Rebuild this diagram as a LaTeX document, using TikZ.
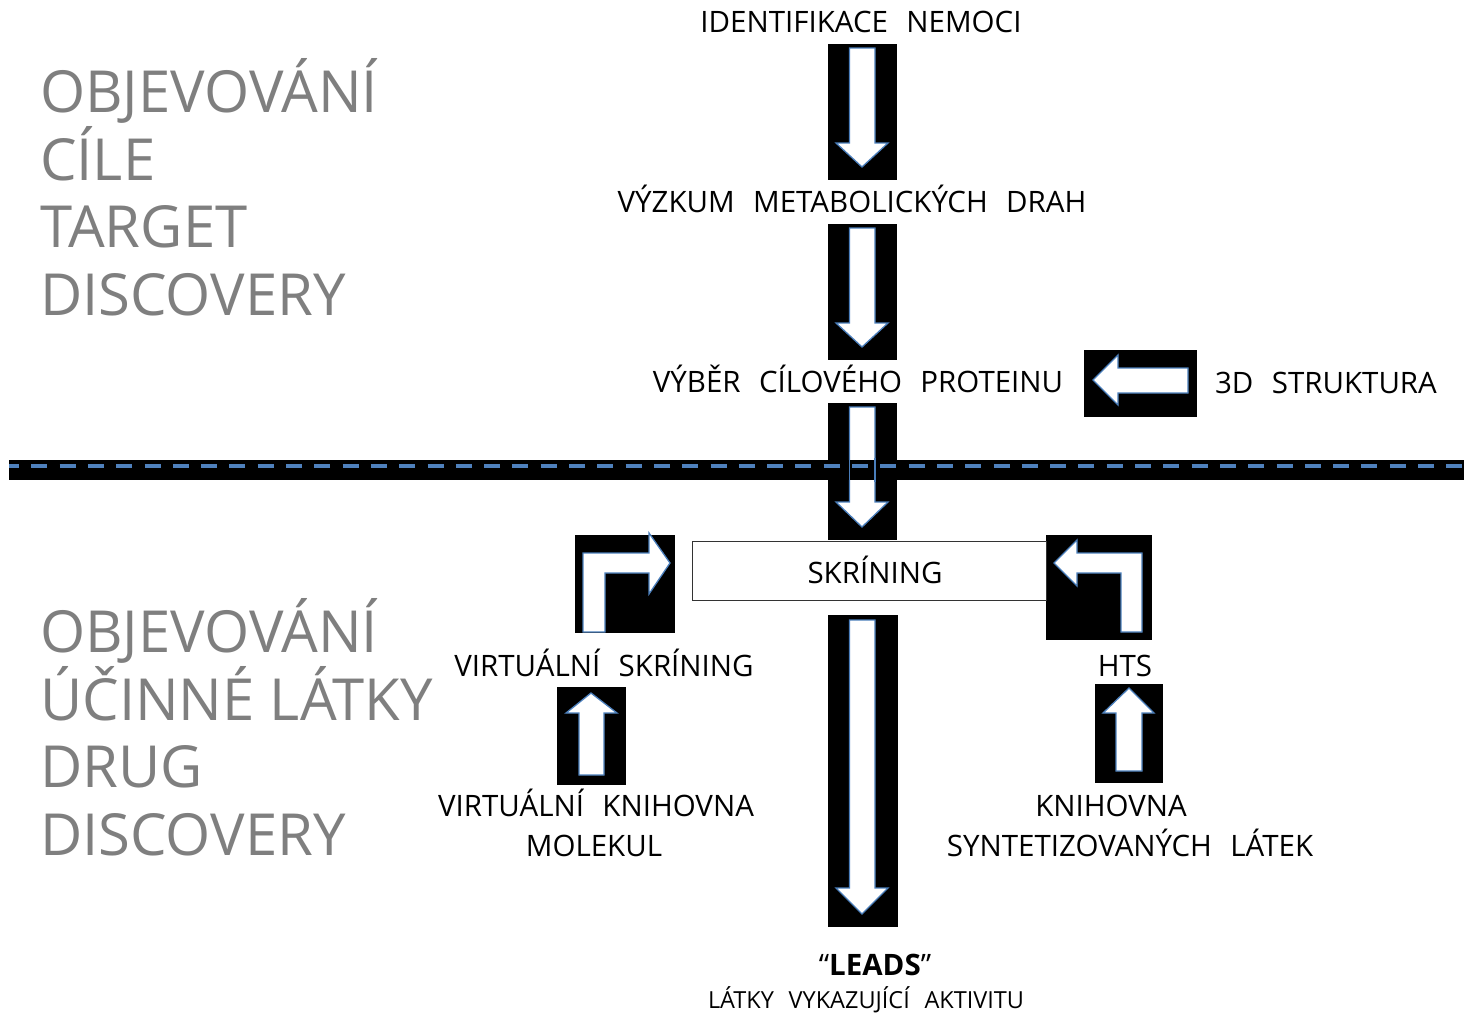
\documentclass[tikz,border=0pt]{standalone}
\usepackage{fontspec}
\setmainfont{Open Sans}
\newfontfamily\lblfont{Open Sans}[WordSpace=2.4]
\definecolor{arrline}{HTML}{4A7EBB}
\definecolor{dashblue}{HTML}{4F81BD}
\definecolor{greytxt}{HTML}{7F7F7F}
\begin{document}
\begin{tikzpicture}[x=1pt,y=-1pt,
  lbl/.style={anchor=base,inner sep=0pt,font=\lblfont\fontsize{29.5}{34}\selectfont},
  big/.style={anchor=base west,inner sep=0pt,text=greytxt,font=\fontsize{58}{68}\selectfont},
  small/.style={anchor=base,inner sep=0pt,font=\lblfont\fontsize{23.5}{28}\selectfont},
  blk/.style={fill=black,draw=none},
  barrow/.style={fill=white,draw=arrline,line width=1.3pt,line join=miter}]
\useasboundingbox (0,0) rectangle (1464,1013);
\fill[white] (0,0) rectangle (1464,1013);

% big grey headings
\node[big] (t1) at (40,112) {OBJEVOVÁNÍ};
\node[big] (t2) at (40,180) {CÍLE};
\node[big] (t3) at (40,247) {TARGET};
\node[big] (t4) at (40,315) {DISCOVERY};
\node[big] (d1) at (40,652) {OBJEVOVÁNÍ};
\node[big] (d2) at (40,720) {ÚČINNÉ LÁTKY};
\node[big] (d3) at (40,787) {DRUG};
\node[big] (d4) at (40,855) {DISCOVERY};

% down arrow 1
\fill[blk] (828,44) rectangle (897,180);
\draw[barrow] (849.5,48) -- (875,48) -- (875,143) -- (888,143) -- (862,167) -- (836,143) -- (849.5,143) -- cycle;
% down arrow 2
\fill[blk] (828,224) rectangle (897,360);
\draw[barrow] (849.5,228) -- (875,228) -- (875,323) -- (888,323) -- (862,347) -- (836,323) -- (849.5,323) -- cycle;
% down arrow 3
\fill[blk] (828,403) rectangle (897,540);
\draw[barrow] (849.5,407) -- (875,407) -- (875,502) -- (888,502) -- (862,527) -- (836,502) -- (849.5,502) -- cycle;

% dashed separator
\fill[black] (9,460) rectangle (1464,480);
\draw[dashblue,line width=4pt,dash pattern=on 16pt off 12.3pt,dash phase=6pt] (9,466) -- (1464,466);
\draw[arrline,line width=1.3pt] (849.5,458) -- (849.5,482) (875,458) -- (875,482);

% big down arrow
\fill[blk] (828,615) rectangle (898,927);
\draw[barrow] (849.5,620) -- (875,620) -- (875,888) -- (888,888) -- (862,914) -- (836,888) -- (849.5,888) -- cycle;

% left arrow from 3D structure
\fill[blk] (1084,350) rectangle (1197,417);
\draw[barrow] (1093,380) -- (1118,355) -- (1118,368) -- (1188,368) -- (1188,393) -- (1118,393) -- (1118,405) -- cycle;

% bent arrows
\fill[blk] (575,535) rectangle (675,633);
\draw[barrow] (583,632) -- (583,553) -- (649,553) -- (649,533) -- (670,563) -- (649,594) -- (649,573) -- (605,573) -- (605,632) -- cycle;
\fill[blk] (1046,535) rectangle (1152,640);
\draw[barrow] (1054,563) -- (1077,540) -- (1077,553) -- (1142,553) -- (1142,632) -- (1121,632) -- (1121,573) -- (1077,573) -- (1077,586) -- cycle;

% up arrows
\fill[blk] (557,687) rectangle (626,785);
\draw[barrow] (591,693) -- (617,713) -- (604,713) -- (604,775) -- (579,775) -- (579,713) -- (566,713) -- cycle;
\fill[blk] (1095,684) rectangle (1163,783);
\draw[barrow] (1129,688) -- (1154,713) -- (1142,713) -- (1142,771) -- (1116,771) -- (1116,713) -- (1103,713) -- cycle;

% screening box
\draw[line width=1pt,black!80] (692,541) rectangle (1046,600);

% labels
\node[lbl] (n1) at (861,32) {IDENTIFIKACE NEMOCI};
\node[lbl] (n2) at (852,212) {VÝZKUM METABOLICKÝCH DRAH};
\node[lbl] (n3) at (858,392) {VÝBĚR CÍLOVÉHO PROTEINU};
\node[lbl] (n4) at (1326,393) {3D STRUKTURA};
\node[lbl] (n5) at (875,583) {SKRÍNING};
\node[lbl] (n6) at (604,676) {VIRTUÁLNÍ SKRÍNING};
\node[lbl] (n7) at (1125,676) {HTS};
\node[lbl] (n8) at (596,816) {VIRTUÁLNÍ KNIHOVNA};
\node[lbl] (n9) at (594,856) {MOLEKUL};
\node[lbl] (n10) at (1111,816) {KNIHOVNA};
\node[lbl] (n11) at (1130,856) {SYNTETIZOVANÝCH LÁTEK};
\node[lbl] (n12) at (875,975) {“\textbf{LEADS}”};
\node[small] (n13) at (866,1008) {LÁTKY VYKAZUJÍCÍ AKTIVITU};
\end{tikzpicture}
\end{document}
